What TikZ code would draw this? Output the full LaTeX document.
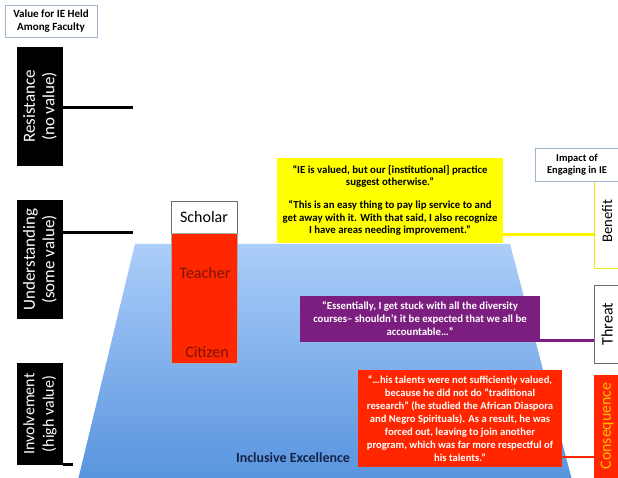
\documentclass[tikz,border=0pt]{standalone}
\usepackage{fontspec}
\setmainfont{Carlito}
\definecolor{slred}{RGB}{255,38,0}
\definecolor{slyellow}{RGB}{255,255,0}
\definecolor{slpurple}{RGB}{124,30,128}
\definecolor{blueA}{RGB}{172,206,250}
\definecolor{blueB}{RGB}{88,148,222}
\definecolor{frame}{RGB}{160,180,208}
\definecolor{darkred}{RGB}{120,22,8}
\definecolor{navy}{RGB}{20,35,70}
\definecolor{conseq}{RGB}{255,192,0}
\definecolor{grayframe}{RGB}{110,110,110}
\begin{document}
\begin{tikzpicture}[x=1pt,y=-1pt,
  blackbox/.style={fill=black, inner sep=0pt, minimum width=46, minimum height=#1},
  vlabel/.style={rotate=90, text=white, align=center, font=\fontsize{17}{19.5}\selectfont},
  titlebox/.style={draw=frame, line width=0.8pt, fill=white, align=center, inner sep=0pt,
    font=\bfseries\fontsize{10.5}{12.5}\selectfont},
  quote/.style={inner sep=0pt, align=center, font=\bfseries\fontsize{10.8}{12.6}\selectfont},
  sidebox/.style={inner sep=0pt, minimum width=31, minimum height=#1},
  sidetext/.style={rotate=90, font=\fontsize{15}{16}\selectfont},
  coltext/.style={font=\fontsize{16}{18}\selectfont},
  conn/.style={line width=3pt}
]
\clip (0,0) rectangle (618,478);
\fill[white] (0,0) rectangle (618,478);

% left title
\node[titlebox, minimum width=92, minimum height=32, font=\bfseries\fontsize{11}{12.7}\selectfont] (valt) at (51,21) {Value for IE Held\\Among Faculty};

% left black boxes
\node[blackbox=119] (res) at (40,106.5) {};
\node[vlabel] at (res.center) {Resistance\\(no value)};
\node[blackbox=119] (und) at (40,259.5) {};
\node[vlabel] at (und.center) {Understanding\\(some value)};
\node[blackbox=102] (inv) at (40,414) {};
\node[vlabel, font=\fontsize{16}{19.5}\selectfont] at (inv.center) {Involvement\\(high value)};

\coordinate (r1) at (133,108);
\coordinate (u1) at (133,233);
\coordinate (i1) at (73,464.5);
\draw[conn, black] (res.east |- r1) -- (r1);
\draw[conn, black] (und.east |- u1) -- (u1);
\draw[conn, black] (inv.east |- i1) -- (i1);

% trapezoid
\shade[top color=blueA, bottom color=blueB] (135,244) -- (510,244) -- (572,480) -- (78,480) -- cycle;
\node[font=\bfseries\fontsize{14}{16}\selectfont, text=navy] (ie) at (293,458) {Inclusive Excellence};

% column
\node[draw=grayframe, line width=0.5pt, fill=white, minimum width=66, minimum height=32, inner sep=0pt,
  coltext] (sch) at (204,217) {Scholar};
\node[draw=grayframe!60, line width=0.5pt, fill=slred, minimum width=66, minimum height=130, inner sep=0pt] (red) at (204,298) {};
\node[text=darkred, coltext] (tea) at (205,273) {Teacher};
\node[text=darkred, coltext] (cit) at (207,352) {Citizen};

% quote boxes
\node[quote, fill=slyellow, minimum width=226, minimum height=85] (yq) at (390,200.5)
 {“IE is valued, but our [institutional] practice\\suggest otherwise.”\\[10pt]“This is an easy thing to pay lip service to and\\get away with it. With that said, I also recognize\\I have areas needing improvement.”};
\node[quote, fill=slpurple, text=white, minimum width=240, minimum height=46] (pq) at (420,318.5)
 {“Essentially, I get stuck with all the diversity\\courses-- shouldn’t it be expected that we all be\\accountable…”};
\node[quote, fill=slred, text=white, minimum width=204, minimum height=97, font=\bfseries\fontsize{10.6}{13}\selectfont] (rq) at (460,418.5)
 {“…his talents were not sufficiently valued,\\because he did not do “traditional\\research” (he studied the African Diaspora\\and Negro Spirituals). As a result, he was\\forced out, leaving to join another\\program, which was far more respectful of\\his talents.”};

% right side boxes
\node[sidebox=95, draw=slyellow!85!gray, line width=0.8pt, fill=white] (ben) at (609.5,220.5) {};
\node[sidetext, font=\fontsize{14.7}{16}\selectfont] at (607,221) {Benefit};
\node[titlebox, minimum width=84, minimum height=33] (imp) at (577,164.5) {Impact of\\Engaging in IE};
\node[sidebox=78, draw=grayframe, line width=0.8pt, fill=white] (thr) at (609.5,324) {};
\node[sidetext, font=\fontsize{16}{17}\selectfont] at (607,324) {Threat};
\node[sidebox=110, fill=slred] (con) at (609.5,430) {};
\node[sidetext, text=conseq, font=\fontsize{15.8}{17}\selectfont] at (607,426) {Consequence};

% connectors to right boxes
\coordinate (yl) at (0,235);
\coordinate (pl) at (0,340);
\coordinate (rl) at (0,457);
\draw[conn, slyellow!90!orange] (yq.east |- yl) -- (ben.west |- yl);
\draw[conn, slpurple] (pq.east |- pl) -- (thr.west |- pl);
\draw[line width=2pt, slred] (rq.east |- rl) -- (con.west |- rl);
\end{tikzpicture}
\end{document}
